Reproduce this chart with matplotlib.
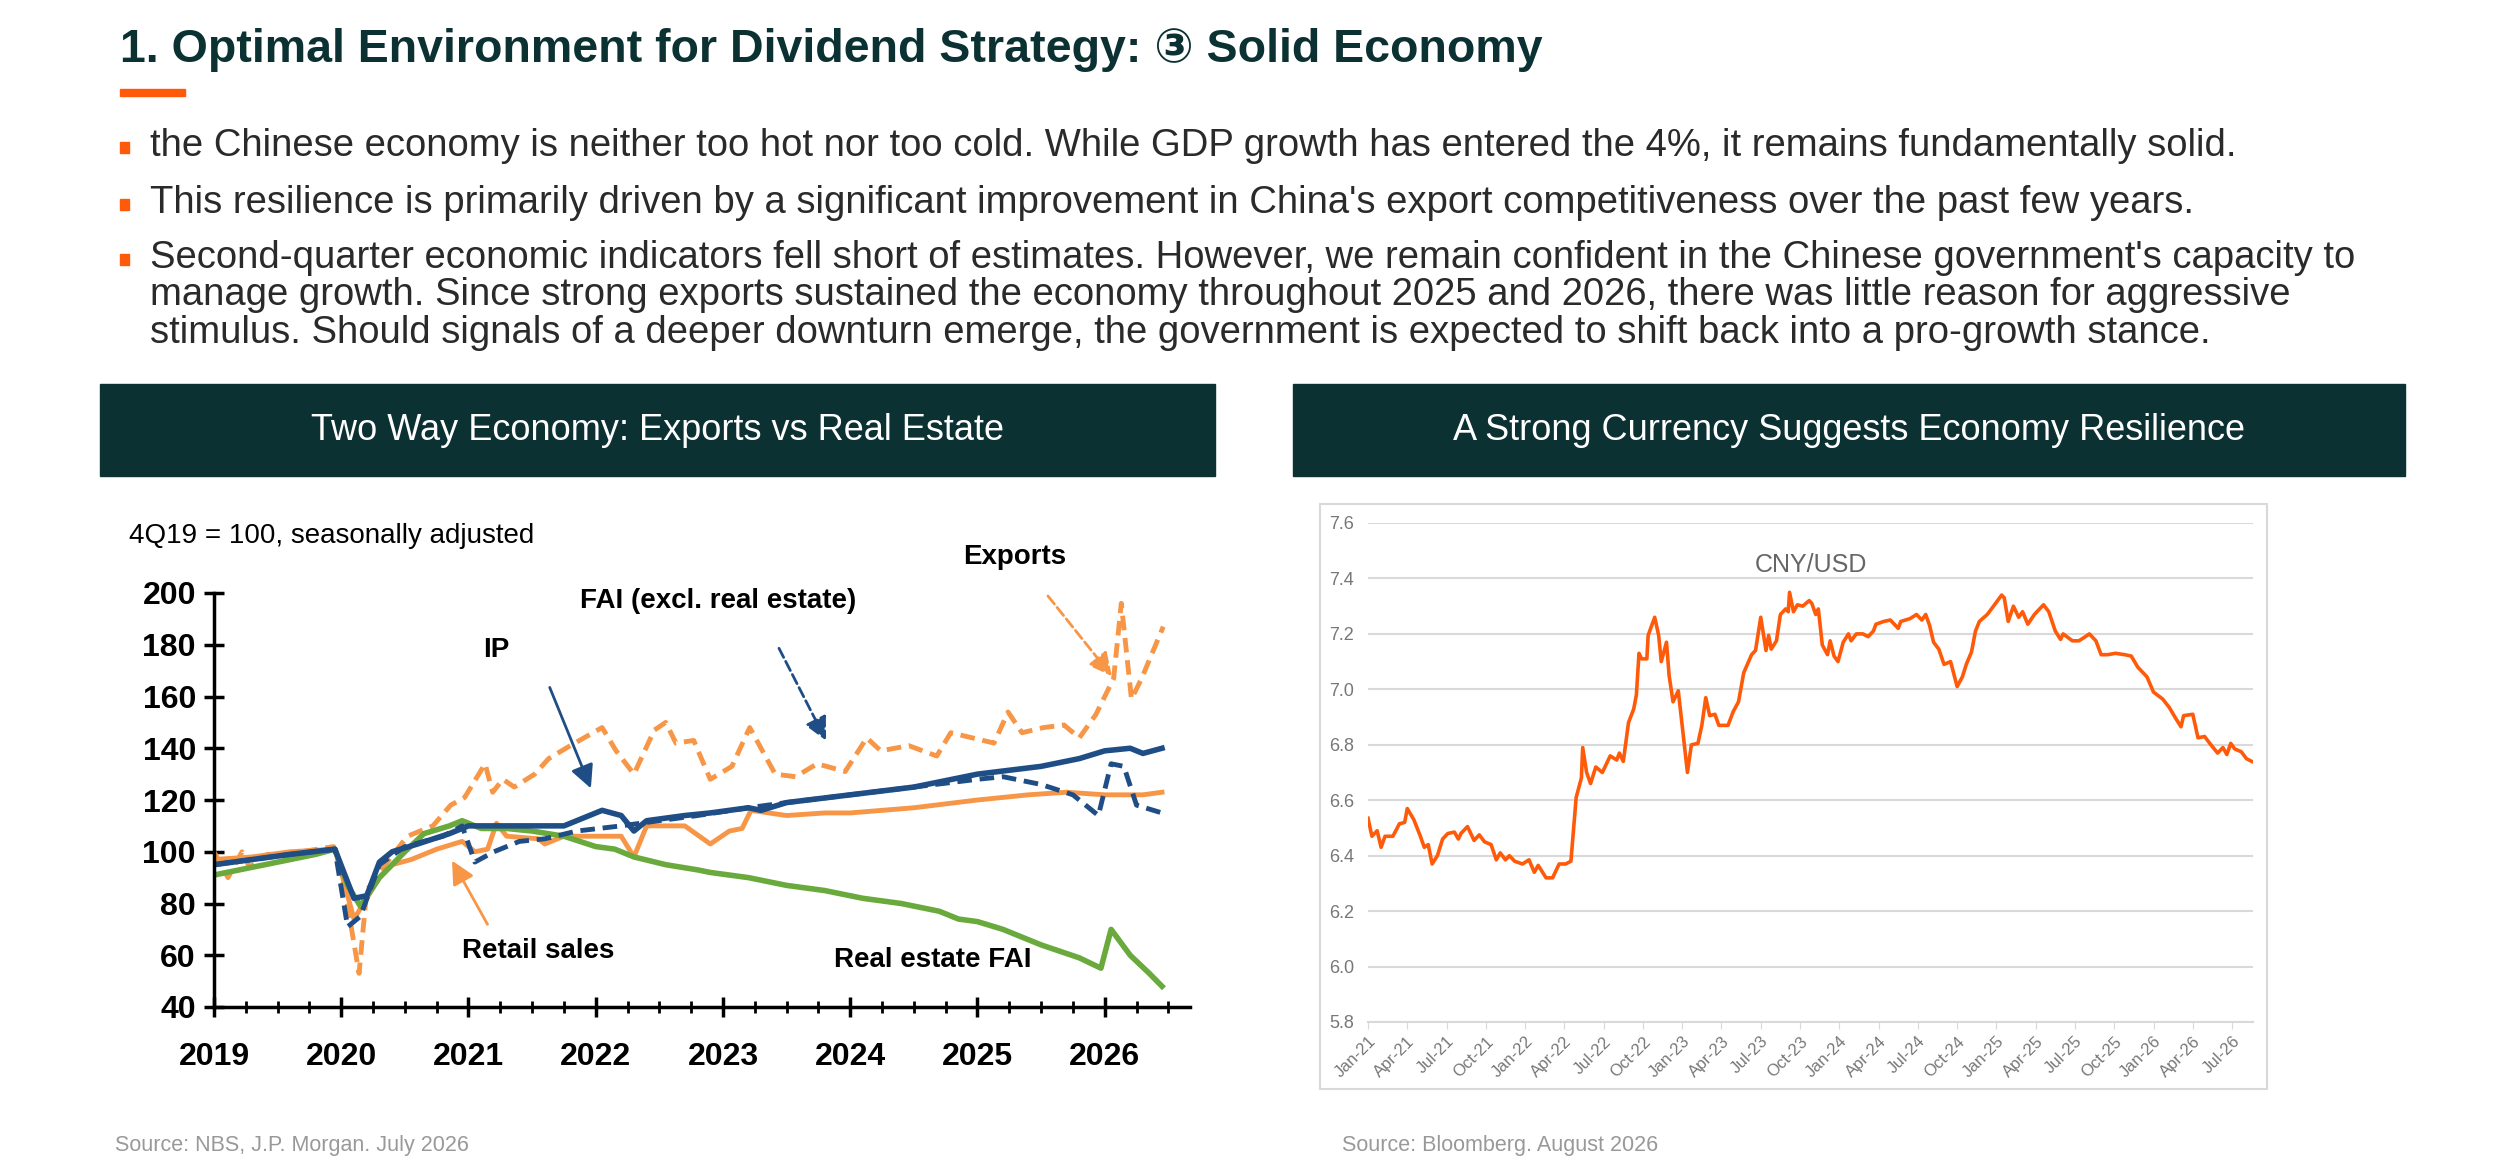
import numpy as np
import matplotlib.pyplot as plt
from matplotlib.patches import Rectangle

# ---- left chart data (year, index 4Q19=100) ----
exp_x = [2019.0, 2019.11, 2019.22, 2019.28, 2019.42, 2019.56, 2019.94, 2020.03, 2020.14, 2020.2,
         2020.36, 2020.52, 2020.72, 2020.86, 2020.97, 2021.13, 2021.19, 2021.27, 2021.36, 2021.52,
         2021.63, 2021.8, 2022.05, 2022.16, 2022.3, 2022.46, 2022.55, 2022.63, 2022.77, 2022.9,
         2023.07, 2023.21, 2023.41, 2023.57, 2023.74, 2023.96, 2024.13, 2024.24, 2024.46, 2024.68,
         2024.79, 2024.96, 2025.13, 2025.24, 2025.35, 2025.52, 2025.68, 2025.8, 2025.93, 2026.07,
         2026.13, 2026.21, 2026.29, 2026.46]
exp_y = [100, 90, 100, 94, 99, 99, 102, 85, 53, 85,
         96, 106, 110, 118, 121, 134, 123, 128, 125, 130,
         136, 141, 148, 139, 130, 147, 150, 142, 143, 128,
         133, 148, 130, 129, 134, 131, 144, 139, 141, 137,
         146, 144, 142, 154, 146, 148, 149, 144, 153, 167,
         196, 159, 167, 187]

ip_x = [2019.0, 2019.3, 2019.6, 2019.95, 2020.1, 2020.2, 2020.3, 2020.4, 2020.6, 2020.85, 2021.0,
        2021.3, 2021.5, 2021.75, 2021.85, 2022.05, 2022.2, 2022.3, 2022.4, 2022.7, 2022.9, 2023.2,
        2023.3, 2023.5, 2024.0, 2024.5, 2025.0, 2025.5, 2025.8, 2026.0, 2026.2, 2026.3, 2026.45]
ip_y = [95, 97, 99, 101, 82, 83, 96, 100, 103, 107, 110,
        110, 110, 110, 112, 116, 114, 108, 112, 114, 115, 117,
        116, 119, 122, 125, 130, 133, 136, 139, 140, 138, 140]

fai_x = [2019.0, 2019.3, 2019.6, 2019.95, 2020.05, 2020.15, 2020.3, 2020.5, 2020.8, 2020.95,
         2021.05, 2021.2, 2021.4, 2021.6, 2021.85, 2022.2, 2022.5, 2022.8, 2023.2, 2023.5, 2024.0,
         2024.5, 2025.0, 2025.2, 2025.5, 2025.75, 2025.95, 2026.05, 2026.15, 2026.25, 2026.45]
fai_y = [95, 97, 99, 101, 71, 75, 95, 102, 106, 110,
         96, 100, 104, 105, 108, 110, 112, 114, 117, 119, 122,
         125, 128, 129, 126, 122, 114, 134, 133, 118, 115]

rs_x = [2019.0, 2019.3, 2019.6, 2019.95, 2020.1, 2020.2, 2020.3, 2020.4, 2020.55, 2020.75, 2020.95,
        2021.05, 2021.15, 2021.22, 2021.3, 2021.55, 2021.6, 2021.75, 2022.0, 2022.2, 2022.3, 2022.4,
        2022.7, 2022.9, 2023.05, 2023.15, 2023.22, 2023.5, 2023.8, 2024.0, 2024.5, 2025.0, 2025.4,
        2025.7, 2026.0, 2026.3, 2026.45]
rs_y = [97, 98, 100, 101, 74, 82, 90, 95, 97, 101, 104,
        100, 101, 111, 106, 105, 103, 106, 106, 106, 98, 110,
        110, 103, 108, 109, 116, 114, 115, 115, 117, 120, 122,
        123, 122, 122, 123]

re_x = [2019.0, 2019.4, 2019.8, 2019.95, 2020.05, 2020.15, 2020.3, 2020.5, 2020.65, 2020.85, 2020.95,
        2021.1, 2021.3, 2021.5, 2021.75, 2022.0, 2022.15, 2022.3, 2022.55, 2022.8, 2022.9, 2023.2,
        2023.5, 2023.8, 2024.1, 2024.4, 2024.7, 2024.85, 2025.0, 2025.2, 2025.5, 2025.8, 2025.97,
        2026.05, 2026.2, 2026.35, 2026.45]
re_y = [91, 95, 99, 101, 87, 79, 90, 100, 107, 110, 112,
        109, 109, 108, 106, 102, 101, 98, 95, 93, 92, 90,
        87, 85, 82, 80, 77, 74, 73, 70, 64, 59, 55,
        70, 60, 53, 48]

years = list(range(2019, 2027))

# ---- right chart data (months since Jan-21, CNY per USD) ----
cny_m = [0, 0.3, 0.7, 1.0, 1.3, 1.9, 2.4, 2.8, 3.0, 3.5, 4.0, 4.3, 4.6, 4.9, 5.3, 5.7, 6.1, 6.6, 6.9,
         7.1, 7.6, 8.1, 8.5, 8.9, 9.4, 9.8, 10.1, 10.5, 10.8, 11.2, 11.8, 12.3, 12.7, 13.0, 13.6,
         14.1, 14.6, 15.1, 15.5, 15.9, 16.3, 16.4, 16.7, 17.0, 17.4, 17.9, 18.5, 19.0, 19.2, 19.5,
         19.9, 20.3, 20.5, 20.7, 20.9, 21.3, 21.4, 21.9, 22.2, 22.4, 22.8, 23.0, 23.3, 23.7, 24.4,
         24.7, 25.2, 25.5, 25.8, 26.1, 26.5, 26.8, 27.5, 27.9, 28.3, 28.7, 29.3, 29.6, 30.0, 30.4,
         30.6, 30.8, 31.2, 31.5, 31.9, 32.1, 32.2, 32.5, 32.8, 33.2, 33.7, 33.9, 34.2, 34.4, 34.7,
         35.1, 35.3, 35.6, 35.9, 36.3, 36.7, 36.9, 37.3, 37.8, 38.2, 38.6, 38.8, 39.4, 39.9, 40.1,
         40.5, 40.7, 41.4, 41.9, 42.3, 42.6, 42.9, 43.2, 43.6, 44.0, 44.5, 45.0, 45.4, 45.7, 46.1,
         46.4, 46.7, 47.3, 47.7, 48.4, 48.6, 48.9, 49.3, 49.7, 50.0, 50.4, 50.9, 51.6, 52.0, 52.5,
         52.9, 53.1, 53.8, 54.3, 54.8, 55.1, 55.6, 56.0, 56.5, 57.1, 57.8, 58.3, 58.8, 59.5, 60.0,
         60.7, 61.2, 61.7, 62.1, 62.3, 63.0, 63.4, 63.9, 64.3, 64.9, 65.3, 65.6, 65.9, 66.2, 66.7,
         67.1, 67.5]
cny_v = [6.535, 6.47, 6.49, 6.43, 6.47, 6.47, 6.515, 6.52, 6.57, 6.53, 6.47, 6.43, 6.44, 6.37, 6.40,
         6.46, 6.48, 6.485, 6.46, 6.48, 6.505, 6.455, 6.475, 6.45, 6.44, 6.385, 6.41, 6.385, 6.40,
         6.38, 6.37, 6.385, 6.34, 6.365, 6.32, 6.32, 6.37, 6.37, 6.38, 6.61, 6.68, 6.79, 6.70, 6.66,
         6.72, 6.70, 6.76, 6.745, 6.77, 6.74, 6.88, 6.93, 6.98, 7.13, 7.11, 7.11, 7.195, 7.26, 7.195,
         7.10, 7.17, 7.05, 6.955, 6.995, 6.70, 6.80, 6.805, 6.87, 6.97, 6.905, 6.91, 6.87, 6.87, 6.92,
         6.955, 7.06, 7.125, 7.14, 7.26, 7.14, 7.195, 7.145, 7.175, 7.27, 7.29, 7.28, 7.35, 7.28,
         7.305, 7.30, 7.32, 7.31, 7.27, 7.29, 7.16, 7.125, 7.175, 7.12, 7.10, 7.17, 7.20, 7.175, 7.20,
         7.20, 7.19, 7.21, 7.235, 7.245, 7.25, 7.24, 7.22, 7.245, 7.255, 7.27, 7.25, 7.27, 7.23, 7.17,
         7.145, 7.09, 7.10, 7.01, 7.045, 7.09, 7.135, 7.21, 7.245, 7.27, 7.295, 7.34, 7.33, 7.245,
         7.30, 7.26, 7.28, 7.235, 7.27, 7.305, 7.28, 7.21, 7.18, 7.20, 7.175, 7.175, 7.19, 7.20, 7.175,
         7.125, 7.125, 7.13, 7.125, 7.12, 7.08, 7.045, 6.99, 6.965, 6.935, 6.895, 6.865, 6.905, 6.91,
         6.825, 6.83, 6.805, 6.77, 6.79, 6.765, 6.805, 6.785, 6.775, 6.75, 6.74]
cny_ticks = ['Jan-21', 'Apr-21', 'Jul-21', 'Oct-21', 'Jan-22', 'Apr-22', 'Jul-22', 'Oct-22',
             'Jan-23', 'Apr-23', 'Jul-23', 'Oct-23', 'Jan-24', 'Apr-24', 'Jul-24', 'Oct-24',
             'Jan-25', 'Apr-25', 'Jul-25', 'Oct-25', 'Jan-26', 'Apr-26', 'Jul-26']

bullets = [
    "the Chinese economy is neither too hot nor too cold. While GDP growth has entered the 4%, it remains fundamentally solid.",
    "This resilience is primarily driven by a significant improvement in China's export competitiveness over the past few years.",
    "Second-quarter economic indicators fell short of estimates. However, we remain confident in the Chinese government's capacity to\n"
    "manage growth. Since strong exports sustained the economy throughout 2025 and 2026, there was little reason for aggressive\n"
    "stimulus. Should signals of a deeper downturn emerge, the government is expected to shift back into a pro-growth stance.",
]

NAVY = '#1f4e87'
ORANGE = '#f79646'
GREEN = '#6aaa3c'
TEAL = '#0b3133'
RED = '#ff5a0a'
NARROW = ['Liberation Sans', 'DejaVu Sans']
SANS = ['Liberation Sans', 'DejaVu Sans']

W, H = 2500, 1165
fig = plt.figure(figsize=(25, 11.65), dpi=100)


def fx(px):
    return px / W


def fy(py):
    return 1 - py / H


# header
fig.text(fx(120), fy(50), "1. Optimal Environment for Dividend Strategy: \u2462 Solid Economy",
         fontsize=33.5, fontweight='bold', color=TEAL, family=SANS + ['Noto Sans CJK SC'], va='center')
fig.add_artist(Rectangle((fx(120), fy(96)), fx(65), 7 / H, color=RED, transform=fig.transFigure))

for y, txt in zip([147, 204, 259], bullets):
    fig.add_artist(Rectangle((fx(120), fy(y + 6)), 9 / W, 11 / H, color=RED, transform=fig.transFigure))
    fig.text(fx(150), fy(y - 19), txt, fontsize=27.5, color='#2a2a2a', family=SANS,
             va='top', linespacing=1.05)

# banners
for x0, x1, t in [(100, 1215, "Two Way Economy: Exports vs Real Estate"),
                  (1293, 2405, "A Strong Currency Suggests Economy Resilience")]:
    fig.add_artist(Rectangle((fx(x0), fy(476)), fx(x1 - x0), 92 / H, color=TEAL, transform=fig.transFigure))
    fig.text(fx((x0 + x1) / 2), fy(430), t, color='white', fontsize=26, family=SANS,
             ha='center', va='center')

fig.text(fx(115), fy(1146), "Source: NBS, J.P. Morgan. July 2026", fontsize=15.5, color='#999999', family=SANS, va='center')
fig.text(fx(1342), fy(1146), "Source: Bloomberg. August 2026", fontsize=15.5, color='#999999', family=SANS, va='center')

# ---- left chart ----
ax = fig.add_axes([fx(214), fy(1007), fx(976), 414 / H])
ax.plot(exp_x, exp_y, color=ORANGE, lw=3.5, ls=(0, (3, 1.6)))
ax.plot(rs_x, rs_y, color=ORANGE, lw=3.5)
ax.plot(re_x, re_y, color=GREEN, lw=4)
ax.plot(fai_x, fai_y, color=NAVY, lw=3.5, ls=(0, (3, 1.6)))
ax.plot(ip_x, ip_y, color=NAVY, lw=4)
ax.set_xlim(2019, 2026.67)
ax.set_ylim(40, 200)
ax.set_yticks(range(40, 201, 20))
ax.set_xticks(years)
ax.set_xticks(np.arange(2019, 2026.6, 0.25), minor=True)
ax.spines[['top', 'right']].set_visible(False)
ax.spines[['left', 'bottom']].set_linewidth(2.5)
ax.tick_params(axis='both', which='major', direction='inout', length=14, width=2.5, pad=6)
ax.tick_params(axis='x', which='minor', direction='inout', length=9, width=2)
ax.tick_params(axis='x', pad=18)
for lab in ax.get_yticklabels():
    lab.set_fontsize(23)
    lab.set_fontweight('bold')
    lab.set_family(NARROW)
ax.set_xticklabels([str(y) for y in years], fontsize=23, fontweight='bold', family=NARROW)

lab = dict(fontsize=20, fontweight='bold', family=NARROW, ha='center', va='center')
ax.text(2018.33, 222, "4Q19 = 100, seasonally adjusted", fontsize=20, family=NARROW,
        ha='left', va='center', clip_on=False)
ax.text(2021.22, 178, "IP", **lab)
ax.text(2022.96, 197, "FAI (excl. real estate)", **lab)
ax.text(2025.29, 214, "Exports", clip_on=False, **lab)
ax.text(2021.55, 61.5, "Retail sales", **lab)
ax.text(2024.65, 58, "Real estate FAI", **lab)
ax.annotate("", xy=(2021.97, 123.5), xytext=(2021.63, 164.5),
            arrowprops=dict(arrowstyle='-|>', color=NAVY, lw=2, mutation_scale=35))
ax.annotate("", xy=(2023.82, 142), xytext=(2023.43, 179.6),
            arrowprops=dict(arrowstyle='-|>', color=NAVY, lw=2, ls='--', mutation_scale=35))
ax.annotate("", xy=(2026.07, 167), xytext=(2025.54, 199.7), annotation_clip=False,
            arrowprops=dict(arrowstyle='-|>', color=ORANGE, lw=2, ls='--', mutation_scale=35))
ax.annotate("", xy=(2020.86, 97.5), xytext=(2021.16, 71),
            arrowprops=dict(arrowstyle='-|>', color=ORANGE, lw=2, mutation_scale=35))

# ---- right chart ----
fig.add_artist(Rectangle((fx(1320), fy(1089)), fx(947), 585 / H, fill=False,
                         edgecolor='#d9d9d9', lw=1.5, transform=fig.transFigure))
bx = fig.add_axes([fx(1368), fy(1022), fx(885), 499 / H])
bx.plot(cny_m, cny_v, color=RED, lw=2.6)
bx.set_xlim(0, 67.6)
bx.set_ylim(5.8, 7.6)
bx.set_yticks(np.arange(5.8, 7.61, 0.2))
bx.set_yticklabels([f"{v:.1f}" for v in np.arange(5.8, 7.61, 0.2)])
bx.grid(axis='y', color='#d9d9d9', lw=1.5)
bx.set_axisbelow(True)
bx.set_xticks(range(0, 67, 3))
bx.set_xticklabels(cny_ticks, rotation=45, ha='right', rotation_mode='anchor')
for s in ['top', 'right', 'left']:
    bx.spines[s].set_visible(False)
bx.spines['bottom'].set_color('#d9d9d9')
bx.spines['bottom'].set_linewidth(1.5)
bx.tick_params(axis='y', length=0, labelsize=13, labelcolor='#777777', pad=10)
bx.tick_params(axis='x', length=5, color='#d9d9d9', labelsize=12, labelcolor='#777777')
for t in bx.get_xticklabels() + bx.get_yticklabels():
    t.set_family(NARROW)
bx.text(0.5, 0.915, "CNY/USD", transform=bx.transAxes, ha='center', va='center',
        fontsize=18, color='#666666', family=SANS)

fig.savefig("out.png", dpi=100, facecolor='white')
